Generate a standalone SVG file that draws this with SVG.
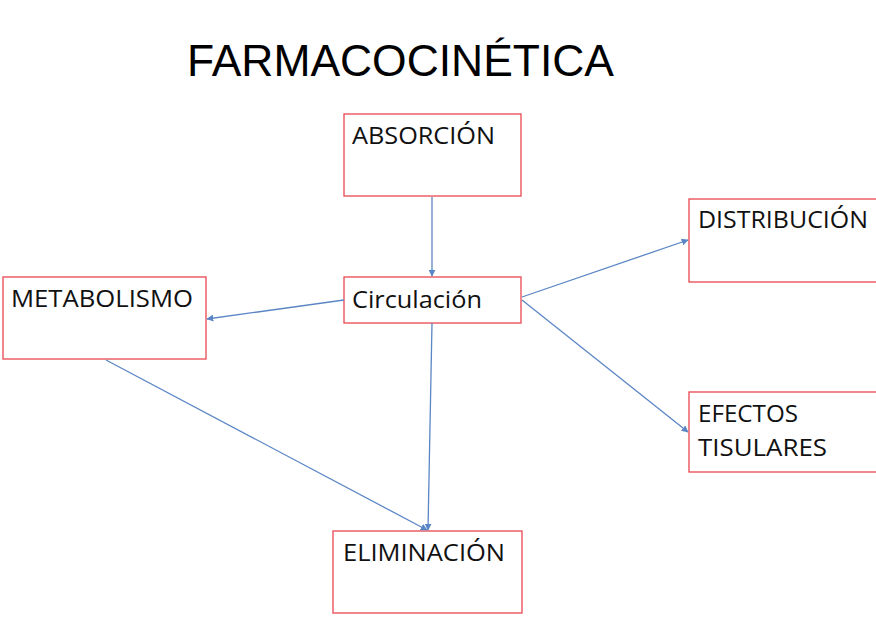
<svg xmlns="http://www.w3.org/2000/svg" width="876" height="630" viewBox="0 0 876 630">
<style>
.box{fill:#fff;stroke:#e8474f;stroke-width:1.3}
.lbl{font-family:"Open Sans","Noto Sans","Liberation Sans",sans-serif;font-size:24px;fill:#111}
.title{font-family:"Liberation Sans",Arial,sans-serif;font-size:44px;fill:#000}
.con{stroke:#5b86c5;stroke-width:1.3;fill:none;marker-end:url(#ah)}
</style>
<defs>
<marker id="ah" viewBox="0 0 10 10" refX="9" refY="5" markerWidth="7" markerHeight="7" markerUnits="userSpaceOnUse" orient="auto">
<path d="M0,0 L10,5 L0,10 z" fill="#5b86c5"/>
</marker>
</defs>
<rect width="876" height="630" fill="#fff"/>
<text class="title" x="187" y="76" textLength="427" lengthAdjust="spacingAndGlyphs">FARMACOCINÉTICA</text>
<g id="absorcion"><rect class="box" x="344" y="114" width="177" height="82"/><text class="lbl" x="352" y="144" textLength="143" lengthAdjust="spacingAndGlyphs">ABSORCIÓN</text></g>
<g id="circulacion"><rect class="box" x="344" y="277" width="177" height="46"/><text class="lbl" x="352" y="308" textLength="130" lengthAdjust="spacingAndGlyphs">Circulación</text></g>
<g id="metabolismo"><rect class="box" x="3" y="277" width="203" height="82"/><text class="lbl" x="11" y="307" textLength="182" lengthAdjust="spacingAndGlyphs">METABOLISMO</text></g>
<g id="distribucion"><rect class="box" x="689" y="199" width="190" height="83"/><text class="lbl" x="698" y="228" textLength="170" lengthAdjust="spacingAndGlyphs">DISTRIBUCIÓN</text></g>
<g id="efectos"><rect class="box" x="689" y="392" width="190" height="80"/><text class="lbl" x="698" y="422" textLength="100" lengthAdjust="spacingAndGlyphs">EFECTOS</text><text class="lbl" x="698" y="456" textLength="129" lengthAdjust="spacingAndGlyphs">TISULARES</text></g>
<g id="eliminacion"><rect class="box" x="333" y="531" width="189" height="82"/><text class="lbl" x="343" y="561" textLength="162" lengthAdjust="spacingAndGlyphs">ELIMINACIÓN</text></g>
<g id="connectors">
<line class="con" x1="432" y1="197" x2="432" y2="276"/>
<line class="con" x1="344" y1="300" x2="207" y2="319"/>
<line class="con" x1="522" y1="297" x2="688" y2="240"/>
<line class="con" x1="522" y1="300" x2="688" y2="432"/>
<line class="con" x1="432" y1="323" x2="428" y2="530"/>
<line class="con" x1="106" y1="360" x2="427" y2="530"/>
</g>
</svg>
